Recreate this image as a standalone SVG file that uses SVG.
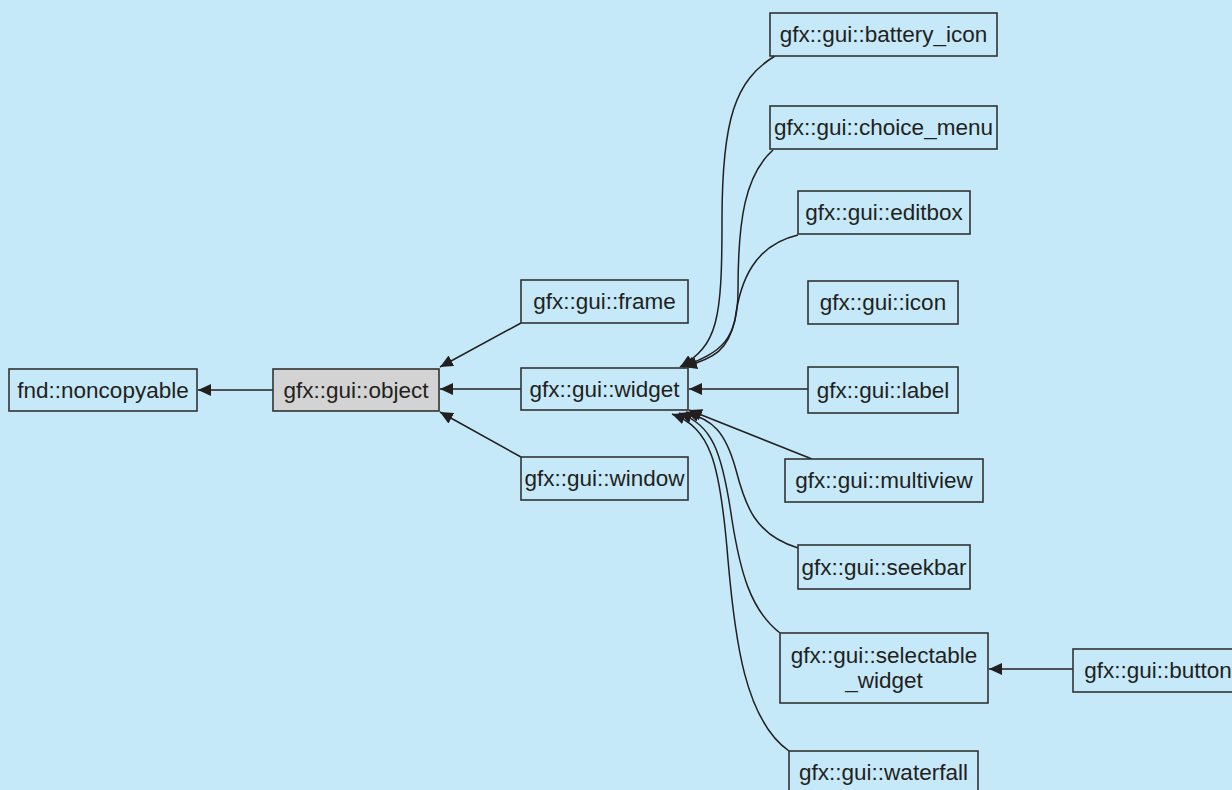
<svg xmlns="http://www.w3.org/2000/svg" width="1232" height="790" viewBox="0 0 1232 790">
<style>
.n rect{fill:#c5e9f9;stroke:#333;stroke-width:1.6}
.n.g rect{fill:#d3d3d3}
.n text{font-family:"Liberation Sans",Arial,sans-serif;font-size:22.5px;fill:#231f20;text-anchor:middle}
.e path{fill:none;stroke:#231f20;stroke-width:1.5;marker-end:url(#ah)}
</style>
<defs>
<marker id="ah" markerUnits="userSpaceOnUse" markerWidth="14" markerHeight="12" refX="13" refY="6" orient="auto" viewBox="0 0 14 12">
<path d="M0,0 L13,6 L0,12 z" fill="#231f20"/>
</marker>
</defs>
<rect width="1232" height="790" fill="#c5e9f9"/>
<g id="connectors" class="e">
<path d="M273,390 L198,390"/>
<path d="M521,323 L440,367"/>
<path d="M521,389 L440,389"/>
<path d="M521,457 L440,412"/>
<path d="M775,56 C735,80 722,120 722,220 C722,320 718,345 680,367"/>
<path d="M773,150 C745,175 738,220 738,290 C738,340 722,352 682,367"/>
<path d="M798,235 C755,245 740,280 735,320 C728,350 715,358 684,367"/>
<path d="M808,389 L689,389"/>
<path d="M812,459 L689,410"/>
<path d="M798,548 C755,535 745,505 736,470 C725,430 712,420 686,412"/>
<path d="M780,633 C750,610 740,570 732,520 C722,450 712,425 679,413"/>
<path d="M789,751 C745,720 735,640 728,560 C720,460 710,428 672,414"/>
<path d="M1073,669 L989,669"/>
</g>
<g id="noncopyable" class="n"><rect x="9" y="369" width="188" height="42"/><text x="103" y="398">fnd::noncopyable</text></g>
<g id="object" class="n g"><rect x="273" y="369" width="166" height="42"/><text x="356" y="398">gfx::gui::object</text></g>
<g id="frame" class="n"><rect x="521" y="280" width="167" height="43"/><text x="604.5" y="309">gfx::gui::frame</text></g>
<g id="widget" class="n"><rect x="521" y="368" width="167" height="42"/><text x="604.5" y="397">gfx::gui::widget</text></g>
<g id="window" class="n"><rect x="521" y="457" width="167" height="43"/><text x="604.5" y="486">gfx::gui::window</text></g>
<g id="battery_icon" class="n"><rect x="770" y="13" width="227" height="43"/><text x="883.5" y="42">gfx::gui::battery_icon</text></g>
<g id="choice_menu" class="n"><rect x="770" y="106" width="227" height="43"/><text x="883.5" y="135">gfx::gui::choice_menu</text></g>
<g id="editbox" class="n"><rect x="798" y="191" width="172" height="43"/><text x="884" y="220">gfx::gui::editbox</text></g>
<g id="icon" class="n"><rect x="808" y="281" width="150" height="43"/><text x="883" y="310">gfx::gui::icon</text></g>
<g id="label" class="n"><rect x="808" y="367" width="150" height="46"/><text x="883" y="398">gfx::gui::label</text></g>
<g id="multiview" class="n"><rect x="785" y="459" width="198" height="43"/><text x="884" y="488">gfx::gui::multiview</text></g>
<g id="seekbar" class="n"><rect x="798" y="545" width="172" height="44"/><text x="884" y="575">gfx::gui::seekbar</text></g>
<g id="selectable_widget" class="n"><rect x="780" y="633" width="208" height="70"/><text x="884" y="663">gfx::gui::selectable</text><text x="884" y="688">_widget</text></g>
<g id="waterfall" class="n"><rect x="789" y="751" width="189" height="44"/><text x="883.5" y="780">gfx::gui::waterfall</text></g>
<g id="button" class="n"><rect x="1073" y="649" width="170" height="43"/><text x="1158" y="678">gfx::gui::button</text></g>
</svg>
